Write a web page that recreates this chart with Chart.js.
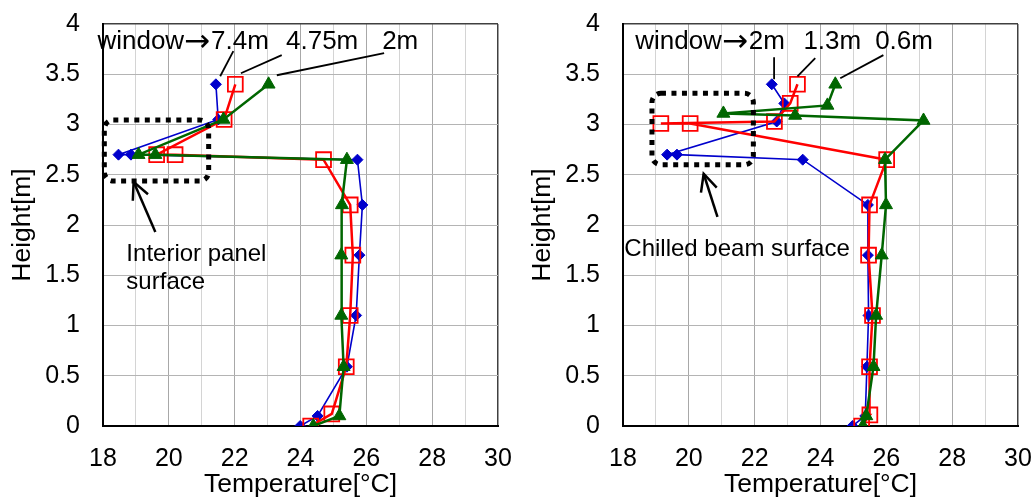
<!DOCTYPE html>
<html>
<head>
<meta charset="utf-8">
<script src="https://cdn.jsdelivr.net/npm/chart.js@4"></script>
<style>
  html, body { margin: 0; padding: 0; background: #fff; }
  #wrap { position: relative; width: 1033px; height: 499px; }
  canvas { position: absolute; top: 0; }
  #c1 { left: 0; }
  #c2 { left: 520px; }
</style>
</head>
<body>
<div id="wrap">
  <canvas id="c1" width="520" height="499"></canvas>
  <canvas id="c2" width="513" height="499"></canvas>
</div>
<script>
// ---------- data ----------
// Left chart: distance from window 7.4m / 4.75m / 2m
const leftBlueTemp  = [23.99, 24.52, 25.41, 25.69, 25.79, 25.88, 25.73, 18.85, 18.47, 21.50, 21.43];
const leftBlueH     = [0, 0.10, 0.59, 1.10, 1.70, 2.20, 2.65, 2.70, 2.70, 3.05, 3.40];
const leftRedTemp   = [24.31, 24.95, 25.39, 25.51, 25.59, 25.51, 24.70, 20.19, 19.63, 21.68, 22.02];
const leftRedH      = [0, 0.12, 0.59, 1.10, 1.70, 2.20, 2.65, 2.70, 2.70, 3.05, 3.40];
const leftGreenTemp = [24.39, 25.18, 25.31, 25.24, 25.24, 25.26, 25.41, 19.59, 19.08, 21.66, 23.03];
const leftGreenH    = [0, 0.10, 0.59, 1.10, 1.70, 2.20, 2.65, 2.70, 2.70, 3.05, 3.40];

// Right chart: distance from window 2m / 1.3m / 0.6m
const rightBlueTemp  = [24.97, 25.36, 25.41, 25.46, 25.44, 25.44, 23.46, 19.64, 19.34, 22.67, 22.90, 22.52];
const rightBlueH     = [0, 0.10, 0.59, 1.10, 1.70, 2.20, 2.65, 2.70, 2.70, 3.03, 3.21, 3.40];
const rightRedTemp   = [25.25, 25.50, 25.49, 25.58, 25.46, 25.49, 26.01, 20.04, 19.15, 22.60, 23.08, 23.30];
const rightRedH      = [0, 0.11, 0.59, 1.10, 1.70, 2.20, 2.65, 3.01, 3.01, 3.03, 3.21, 3.40];
const rightGreenTemp = [25.29, 25.39, 25.61, 25.69, 25.86, 25.99, 25.96, 27.13, 23.23, 21.05, 24.21, 24.45];
const rightGreenH    = [0, 0.10, 0.59, 1.10, 1.70, 2.20, 2.65, 3.04, 3.09, 3.11, 3.19, 3.40];

const leftLabels  = ['window\u21927.4m', '4.75m', '2m'];
const rightLabels = ['window\u21922m', '1.3m', '0.6m'];
const leftNote    = ['Interior panel', 'surface'];
const rightNote   = ['Chilled beam surface'];

const xTicksMin = 18, xTicksMax = 30, yTicksMin = 0, yTicksMax = 4;

// ---------- helpers ----------
function pts(xs, ys) { return xs.map((v, i) => ({ x: v, y: ys[i] })); }

const FONT = "'Liberation Sans', Arial, sans-serif";
const ARROW_FONT = "'DejaVu Sans', sans-serif";

// annotation layout (in data coordinates)
const leftAnn = {
  labels: [{ text: leftLabels[0], x: 17.83, y: 3.82 }, { text: leftLabels[1], x: 23.56, y: 3.82 }, { text: leftLabels[2], x: 26.48, y: 3.82 }],
  leaders: [[21.96, 3.73, 21.56, 3.48], [23.43, 3.69, 22.19, 3.51], [26.54, 3.71, 23.28, 3.49]],
  box: [18.04, 3.045, 21.21, 2.438],
  arrow: [19.59, 1.93, 18.93, 2.43],
  notes: [{ text: leftNote[0], x: 18.71, y: 1.71 }, { text: leftNote[1], x: 18.71, y: 1.43 }]
};
const rightAnn = {
  labels: [{ text: rightLabels[0], x: 18.37, y: 3.82 }, { text: rightLabels[1], x: 23.48, y: 3.82 }, { text: rightLabels[2], x: 25.66, y: 3.82 }],
  leaders: [[22.59, 3.67, 22.59, 3.45], [23.84, 3.66, 23.30, 3.48], [25.91, 3.69, 24.60, 3.46]],
  box: [18.88, 3.31, 21.96, 2.60],
  arrow: [20.87, 2.08, 20.45, 2.51],
  notes: [{ text: rightNote[0], x: 18.04, y: 1.76 }]
};

function drawLabel(ctx, text, x, y) {
  const parts = text.split('\u2192');
  let cx = x;
  parts.forEach((p, i) => {
    if (i > 0) {
      ctx.font = '31px ' + ARROW_FONT;
      ctx.fillText('\u2192', cx, y + 1);
      cx += ctx.measureText('\u2192').width + 1;
    }
    ctx.font = '26px ' + FONT;
    ctx.fillText(p, cx, y);
    cx += ctx.measureText(p).width;
  });
}

const annPlugin = {
  id: 'ann',
  afterDraw(chart, args, opts) {
    const a = opts.data; if (!a) return;
    const ctx = chart.ctx, sx = chart.scales.x, sy = chart.scales.y;
    const X = v => sx.getPixelForValue(v), Y = v => sy.getPixelForValue(v);
    ctx.save();
    ctx.fillStyle = '#000';
    ctx.textBaseline = 'middle';
    ctx.textAlign = 'left';
    a.labels.forEach(l => drawLabel(ctx, l.text, X(l.x), Y(l.y)));
    ctx.strokeStyle = '#000';
    ctx.lineWidth = 1.8;
    a.leaders.forEach(L => { ctx.beginPath(); ctx.moveTo(X(L[0]), Y(L[1])); ctx.lineTo(X(L[2]), Y(L[3])); ctx.stroke(); });
    // dotted rounded box
    const bx0 = X(a.box[0]), by0 = Y(a.box[1]), bx1 = X(a.box[2]), by1 = Y(a.box[3]);
    ctx.setLineDash([5, 5.5]);
    ctx.lineWidth = 5;
    ctx.beginPath();
    ctx.roundRect(bx0, by0, bx1 - bx0, by1 - by0, 9);
    ctx.stroke();
    ctx.setLineDash([]);
    // arrow
    const tx = X(a.arrow[0]), ty = Y(a.arrow[1]), hx = X(a.arrow[2]), hy = Y(a.arrow[3]);
    ctx.lineWidth = 2.5;
    ctx.beginPath(); ctx.moveTo(tx, ty); ctx.lineTo(hx, hy); ctx.stroke();
    const ang = Math.atan2(hy - ty, hx - tx), len = 19, spread = 0.45;
    ctx.beginPath();
    ctx.moveTo(hx - len * Math.cos(ang - spread), hy - len * Math.sin(ang - spread));
    ctx.lineTo(hx, hy);
    ctx.lineTo(hx - len * Math.cos(ang + spread), hy - len * Math.sin(ang + spread));
    ctx.stroke();
    ctx.font = '24px ' + FONT;
    a.notes.forEach(n => ctx.fillText(n.text, X(n.x), Y(n.y)));
    ctx.restore();
  }
};

function zeroPad(s) { s.paddingLeft = 0; s.paddingRight = 0; s.paddingTop = 0; s.paddingBottom = 0; }

function makeChart(id, blue, red, green, ann, rightPad) {
  const ds = (label, data, color, style, radius, lw, order, fill) => ({
    label, data, showLine: true, borderColor: color, backgroundColor: fill,
    pointBorderColor: color, pointBackgroundColor: fill, pointStyle: style,
    pointRadius: radius, pointHoverRadius: radius, pointBorderWidth: style === 'rect' ? 1.8 : 1,
    borderWidth: lw, tension: 0, order
  });
  return new Chart(document.getElementById(id), {
    type: 'scatter',
    data: {
      datasets: [
        ds('green', green, '#006600', 'triangle', 7.5, 2.5, 1, '#006600'),
        ds('red', red, '#FF0000', 'rect', 10.5, 2.5, 2, 'rgba(0,0,0,0)'),
        ds('blue', blue, '#0000CC', 'rectRot', 5.5, 1.6, 3, '#0000CC')
      ]
    },
    options: {
      responsive: false, animation: false, devicePixelRatio: 1,
      layout: { padding: { top: 24, right: rightPad, left: 0, bottom: 0 } },
      plugins: { legend: { display: false }, tooltip: { enabled: false }, ann: { data: ann } },
      scales: {
        x: {
          type: 'linear', min: xTicksMin, max: xTicksMax,
          afterFit: s => { s.height = 73; zeroPad(s); },
          border: { color: '#000', width: 2 },
          grid: {
            drawTicks: false,
            color: c => c.tick.value === xTicksMax ? '#404040' : (c.tick.value % 2 === 0 ? '#A8A8A8' : '#D4D4D4'),
            lineWidth: c => c.tick.value === xTicksMax ? 1.5 : 1
          },
          ticks: {
            stepSize: 1, autoSkip: false, maxRotation: 0, padding: 18, color: '#000',
            font: { family: FONT, size: 25 },
            callback: v => (v % 2 === 0 ? String(v) : '')
          },
          title: { display: true, text: 'Temperature[°C]', color: '#000', font: { family: FONT, size: 26.5, lineHeight: 1 }, padding: { top: 0, bottom: 1 } }
        },
        y: {
          type: 'linear', min: yTicksMin, max: yTicksMax,
          afterFit: s => { s.width = 103; zeroPad(s); },
          border: { color: '#000', width: 2 },
          grid: {
            drawTicks: false,
            color: c => c.tick.value === yTicksMax ? '#404040' : '#B4B4B4',
            lineWidth: c => c.tick.value === yTicksMax ? 1.5 : 1
          },
          ticks: { stepSize: 0.5, padding: 23, color: '#000', font: { family: FONT, size: 25 },
                   callback: v => String(Math.round(v * 10) / 10) },
          title: { display: true, text: 'Height[m]', color: '#000', font: { family: FONT, size: 26.5, lineHeight: 1 }, padding: { top: 9, bottom: 0 } }
        }
      }
    },
    plugins: [annPlugin]
  });
}

makeChart('c1', pts(leftBlueTemp, leftBlueH), pts(leftRedTemp, leftRedH), pts(leftGreenTemp, leftGreenH), leftAnn, 22);
makeChart('c2', pts(rightBlueTemp, rightBlueH), pts(rightRedTemp, rightRedH), pts(rightGreenTemp, rightGreenH), rightAnn, 15);
</script>
</body>
</html>
